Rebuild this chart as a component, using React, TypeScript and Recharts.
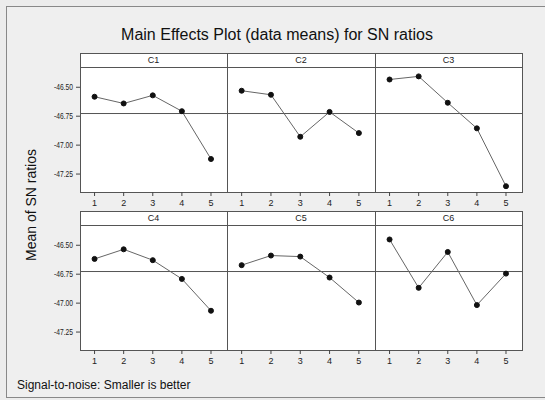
import React from 'react'
import { LineChart, Line, XAxis, YAxis, ReferenceLine } from 'recharts'

// levels and mean SN ratios
const LEVELS = [1, 2, 3, 4, 5]
const FACTORS = ['C1', 'C2', 'C3', 'C4', 'C5', 'C6']
const C1 = [-46.582, -46.64, -46.57, -46.707, -47.12]
const C2 = [-46.53, -46.565, -46.928, -46.713, -46.896]
const C3 = [-46.433, -46.406, -46.634, -46.855, -47.355]
const C4 = [-46.618, -46.535, -46.629, -46.791, -47.066]
const C5 = [-46.672, -46.589, -46.598, -46.779, -46.995]
const C6 = [-46.45, -46.868, -46.558, -47.017, -46.745]
const SERIES = [C1, C2, C3, C4, C5, C6]
const Y_TICKS = [-46.5, -46.75, -47.0, -47.25]
const GRAND_MEAN = -46.727

const FONT = '"Liberation Sans", Arial, sans-serif'
const LINE = '#666'
const BORDER = '#555'

const COL_X = [80, 227, 375]
const COL_W = [147, 148, 147]
const ROW_Y = [67, 225]
const PLOT_H = 125
const STRIP_H = 14
const X_AXIS_H = 24
const Y_AXIS_W = 42
const X_DOMAIN = [0.5, 5.55]
const Y_DOMAIN = [-47.405, -46.325]

function YTick(props: any) {
  const { x, y, payload } = props
  return (
    <text x={x} y={y} dy={3} textAnchor="end" fontSize={8.5} fill="#222"
      textLength={19} lengthAdjust="spacingAndGlyphs">
      {Number(payload.value).toFixed(2)}
    </text>
  )
}

function Panel({ idx }: { idx: number }) {
  const col = idx % 3
  const row = Math.floor(idx / 3)
  const showY = col === 0
  const yW = showY ? Y_AXIS_W : 0
  const data = LEVELS.map((l, i) => ({ level: l, sn: SERIES[idx][i] }))
  return (
    <div style={{ position: 'absolute', left: COL_X[col] - yW, top: ROW_Y[row] }}>
      <LineChart width={COL_W[col] + yW} height={PLOT_H + X_AXIS_H} data={data}
        margin={{ top: 0, right: 0, bottom: 0, left: 0 }}>
        <XAxis dataKey="level" type="number" domain={X_DOMAIN} ticks={LEVELS}
          allowDataOverflow axisLine={false} tickSize={4} tickMargin={4} height={X_AXIS_H}
          tickLine={{ stroke: '#444' }} tick={{ fontSize: 9, fill: '#222' }} />
        <YAxis type="number" domain={Y_DOMAIN} ticks={Y_TICKS} allowDataOverflow hide={!showY}
          width={Y_AXIS_W} axisLine={false} tickSize={4} tickMargin={3}
          tickLine={{ stroke: '#444' }} tick={(p: any) => <YTick {...p} />} />
        <ReferenceLine y={GRAND_MEAN} stroke={BORDER} strokeWidth={1} />
        <Line type="linear" dataKey="sn" stroke={LINE} strokeWidth={1}
          dot={{ r: 2.5, fill: '#111', stroke: '#111', strokeWidth: 1 }}
          isAnimationActive={false} />
      </LineChart>
    </div>
  )
}

export default function App() {
  return (
    <div style={{ position: 'absolute', left: 0, top: 0, width: 545, height: 400,
      background: '#ececec', fontFamily: FONT, overflow: 'hidden' }}>
      <svg width={545} height={400} style={{ position: 'absolute', left: 0, top: 0 }}>
        <rect x={6.5} y={6.5} width={600} height={391} fill="#efefef" stroke="#888" />
        <text x={277} y={40} textAnchor="middle" fontSize={16} fill="#111">
          Main Effects Plot (data means) for SN ratios
        </text>
        <text transform="translate(36,205) rotate(-90)" textAnchor="middle" fontSize={14} fill="#111">
          Mean of SN ratios
        </text>
        <text x={17} y={389} fontSize={12} fill="#111">Signal-to-noise: Smaller is better</text>
        {FACTORS.map((f, idx) => {
          const col = idx % 3
          const row = Math.floor(idx / 3)
          const x = COL_X[col]
          const w = COL_W[col]
          const top = ROW_Y[row]
          return (
            <g key={f}>
              <rect x={x + 0.5} y={top - STRIP_H + 0.5} width={w} height={STRIP_H} fill="#fff" stroke={BORDER} />
              <text x={x + w / 2} y={top - 4} textAnchor="middle" fontSize={9} fill="#222">{f}</text>
              <rect x={x + 0.5} y={top + 0.5} width={w} height={PLOT_H} fill="#fff" stroke={BORDER} />
            </g>
          )
        })}
      </svg>
      {FACTORS.map((f, idx) => <Panel key={f} idx={idx} />)}
    </div>
  )
}
